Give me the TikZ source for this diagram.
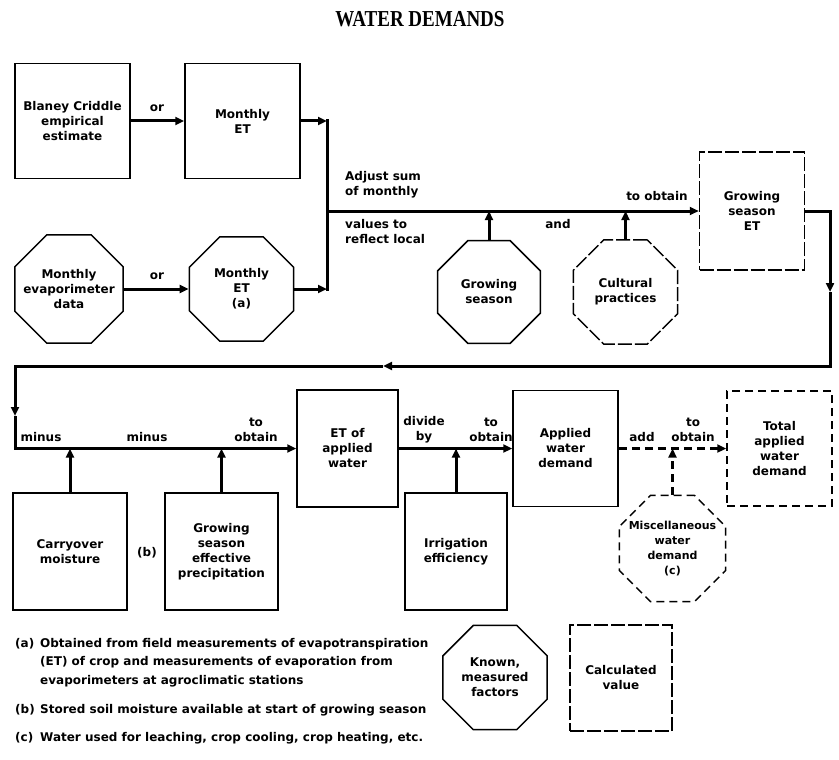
\documentclass[tikz,border=0pt]{standalone}
\usepackage{fontspec}
\setmainfont{DejaVu Sans}
\newfontfamily\titlefont{Liberation Serif}
\usetikzlibrary{shapes.geometric,arrows.meta}
\tikzset{
  txt/.style={font=\bfseries\fontsize{12}{15}\selectfont, align=center, inner sep=0pt},
  box/.style={draw, line width=1.5pt, rectangle, inner sep=0pt, txt},
  oct/.style={draw, line width=1.5pt, regular polygon, regular polygon sides=8, inner sep=0pt},
  conn/.style={line width=3pt, line join=miter},
  tip/.tip={Triangle[length=9pt,width=8pt]},
  dsh/.style={dash pattern=on 8pt off 5pt},
  ldsh/.style={dash pattern=on 14pt off 3pt},
  lbl/.style={txt},
  foot/.style={font=\bfseries\fontsize{12}{18.5}\selectfont, align=left, inner sep=0pt}
}
\begin{document}
\begin{tikzpicture}[x=1pt,y=-1pt]
\useasboundingbox (0,0) rectangle (839,760);
% title
\node[inner sep=0pt] (title) at (420,19) {\scalebox{1}[1.2]{\titlefont\bfseries\fontsize{19}{21}\selectfont WATER DEMANDS}};
% top row
\node[box, minimum width=115pt, minimum height=115pt] (bc) at (72.5,121) {Blaney Criddle\\empirical\\estimate};
\node[box, minimum width=115pt, minimum height=115pt] (met) at (242.5,121) {Monthly\\ET};
\node[oct, minimum size=117pt, label={[txt]center:Monthly\\evaporimeter\\data}] (evap) at (69,289) {};
\node[oct, minimum size=113pt, label={[txt]center:Monthly\\ET\\(a)}] (met2) at (241.5,289) {};
\coordinate (jt) at (327,121);
\coordinate (jb) at (327,289);
\coordinate (jm) at (327,211);
\draw[conn,-tip] (bc.east) -- (met.west);
\node[lbl] (or1) at (157,108) {or};
\draw[conn,-tip] (evap.east) -- (met2.west);
\node[lbl] (or2) at (157,276) {or};
\draw[conn,-tip] (met.east) -- (jt);
\draw[conn,-tip] (met2.east) -- (jb);
\draw[conn] ([yshift=1.5pt]jt) -- ([yshift=-1.5pt]jb);
% growing season ET
\node[box, ldsh, minimum width=105pt, minimum height=118pt] (gse) at (752,211) {Growing\\season\\ET};
\draw[conn,-tip] (jm) -- (gse.west);
\node[lbl, anchor=west, align=left] (adj1) at (345,185) {Adjust sum\\of monthly};
\node[lbl, anchor=west, align=left] (adj2) at (345,232) {values to\\reflect local};
\node[lbl] (toob1) at (657,196) {to obtain};
\node[lbl] (and1) at (558,224) {and};
\node[oct, minimum size=111pt, label={[txt]center:Growing\\season}] (gs) at (489,292) {};
\node[oct, ldsh, minimum size=113pt, label={[txt]center:Cultural\\practices}] (cp) at (625.5,292) {};
\draw[conn,-tip] (gs.north) -- (gs.north |- jm);
\draw[conn,-tip] (cp.north) -- (cp.north |- jm);
% return path
\coordinate (r1) at (830,211);
\coordinate (m1) at (830,292);
\coordinate (r2) at (830,366);
\coordinate (m2) at (383,366);
\coordinate (r3) at (15,366);
\coordinate (m3) at (15,416);
\coordinate (r4) at (15,448.5);
\draw[conn,-tip] (gse.east) -- (r1) -- (m1);
\draw[conn,-tip] (m1) -- (r2) -- (m2);
\draw[conn,-tip] (m2) -- (r3) -- (m3);
% lower row
\node[box, minimum width=101pt, minimum height=117pt] (etaw) at (347.5,448.5) {ET of\\applied\\water};
\draw[conn,-tip] (m3) -- (r4) -- (etaw.west);
\node[box, minimum width=114pt, minimum height=117pt] (carry) at (70,551.5) {Carryover\\moisture};
\node[box, minimum width=113pt, minimum height=117pt] (gsep) at (221.5,551.5) {Growing\\season\\effective\\precipitation};
\draw[conn,-tip] (carry.north) -- (carry.north |- r4);
\draw[conn,-tip] (gsep.north) -- (gsep.north |- r4);
\node[lbl] (minus1) at (41,437) {minus};
\node[lbl] (minus2) at (147,437) {minus};
\node[lbl] (toob2) at (256,430) {to\\obtain};
\node[lbl] (bnote) at (147,553) {(b)};
\node[box, minimum width=105pt, minimum height=116pt] (awd) at (565.5,448.5) {Applied\\water\\demand};
\node[box, minimum width=102pt, minimum height=117pt] (irr) at (456,551.5) {Irrigation\\efficiency};
\draw[conn,-tip] (etaw.east) -- (awd.west);
\draw[conn,-tip] (irr.north) -- (irr.north |- etaw.east);
\node[lbl] (div) at (424,430) {divide\\by};
\node[lbl] (toob3) at (491,430) {to\\obtain};
\node[box, dsh, minimum width=105pt, minimum height=115pt] (total) at (779.5,448.5) {Total\\applied\\water\\demand};
\draw[conn,dsh,-tip] (awd.east) -- (total.west);
\node[oct, dsh, minimum size=115pt, label={[txt, font=\bfseries\fontsize{11}{15}\selectfont]center:Miscellaneous\\water\\demand\\(c)}] (misc) at (672.5,548.5) {};
\draw[conn,dsh,-tip] (misc.north) -- (misc.north |- awd.east);
\node[lbl] (add) at (642,437) {add};
\node[lbl] (toob4) at (693,430) {to\\obtain};
% legend
\node[oct, minimum size=113pt, label={[txt]center:Known,\\measured\\factors}] (known) at (495,677.5) {};
\node[box, ldsh, minimum width=102pt, minimum height=106pt] (calc) at (621,678) {Calculated\\value};
% footnotes
\node[foot, anchor=north west] (fa) at (15,638) {(a)};
\node[foot, anchor=north west] (fat) at (40,638) {Obtained from field measurements of evapotranspiration\\(ET) of crop and measurements of evaporation from\\evaporimeters at agroclimatic stations};
\node[foot, anchor=west] (fb) at (15,710) {(b)};
\node[foot, anchor=west] (fbt) at (40,710) {Stored soil moisture available at start of growing season};
\node[foot, anchor=west] (fc) at (15,738) {(c)};
\node[foot, anchor=west] (fct) at (40,738) {Water used for leaching, crop cooling, crop heating, etc.};
\end{tikzpicture}
\end{document}
